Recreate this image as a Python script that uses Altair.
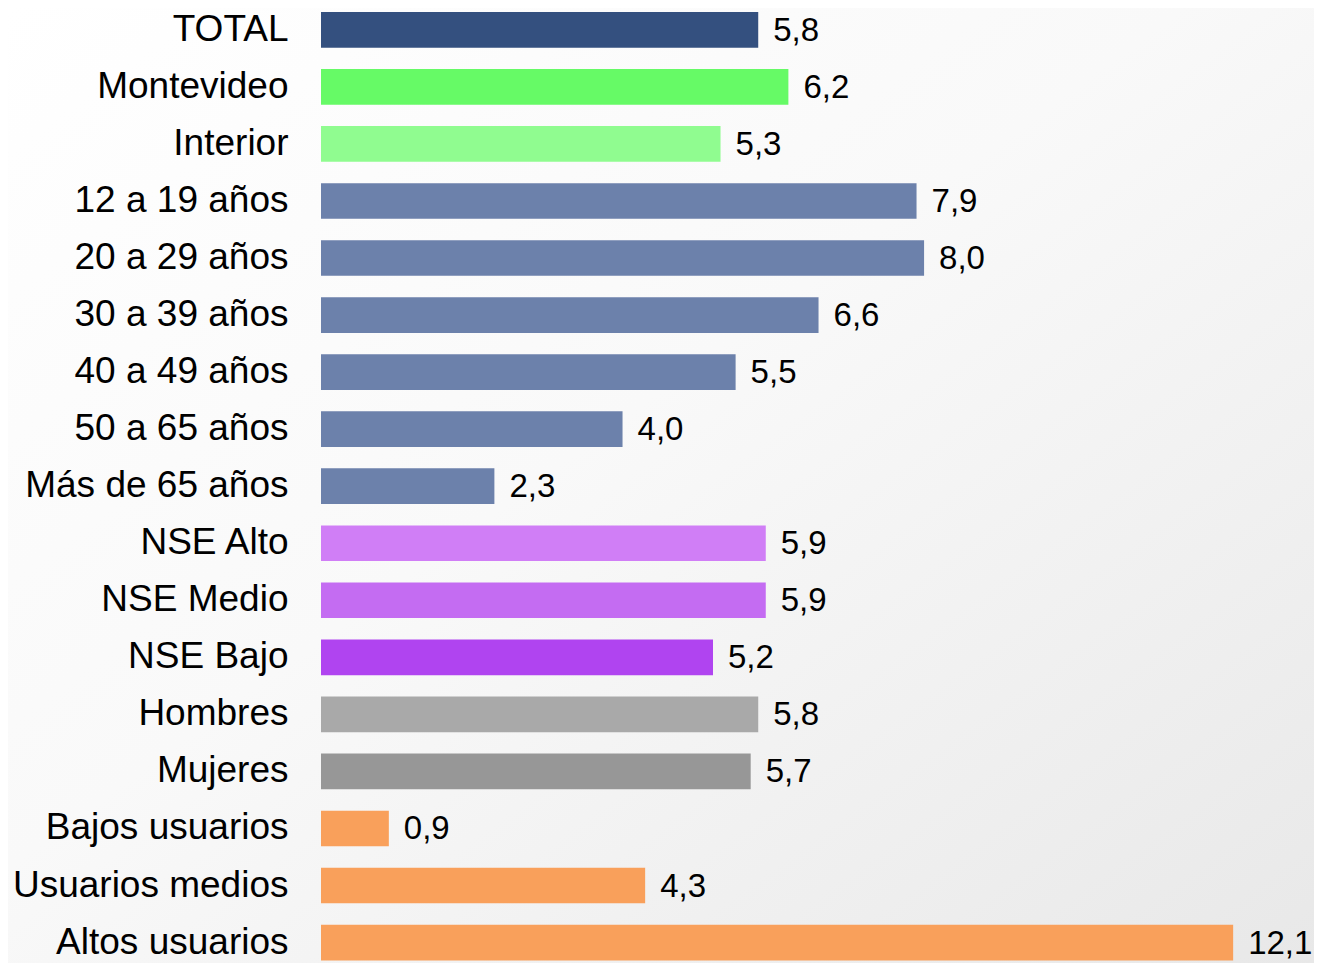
import altair as alt
import pandas as pd

categories = ["TOTAL", "Montevideo", "Interior", "12 a 19 años", "20 a 29 años",
              "30 a 39 años", "40 a 49 años", "50 a 65 años", "Más de 65 años",
              "NSE Alto", "NSE Medio", "NSE Bajo", "Hombres", "Mujeres",
              "Bajos usuarios", "Usuarios medios", "Altos usuarios"]
values = [5.8, 6.2, 5.3, 7.9, 8.0, 6.6, 5.5, 4.0, 2.3,
          5.9, 5.9, 5.2, 5.8, 5.7, 0.9, 4.3, 12.1]
colors = ["#34507f", "#66fa66", "#90fc90", "#6c81ab", "#6c81ab", "#6c81ab",
          "#6c81ab", "#6c81ab", "#6c81ab", "#d07ef6", "#c46cf2", "#b044f0",
          "#a9a9a9", "#979797", "#f9a05b", "#f9a05b", "#f9a05b"]
labels = [f"{v:.1f}".replace(".", ",") for v in values]

df = pd.DataFrame({"cat": categories, "val": values, "lbl": labels})

FONT = "Liberation Sans"
LEFT = 313
W, H = 980, 955
BAND_RANGE = 956.4

bg = alt.Chart(pd.DataFrame({"a": [0]})).mark_rect(
    fill=alt.Gradient(
        gradient="linear",
        stops=[alt.GradientStop(color="#ffffff", offset=0),
               alt.GradientStop(color="#f9f9f9", offset=0.45),
               alt.GradientStop(color="#e8e8e8", offset=1)],
        x1=0, y1=0, x2=1, y2=1),
).encode(x=alt.value(-LEFT), x2=alt.value(W + 13), y=alt.value(0), y2=alt.value(H))

y_enc = alt.Y("cat:N", sort=categories,
              scale=alt.Scale(paddingInner=0.375, paddingOuter=0.07, range=[0, BAND_RANGE]),
              axis=alt.Axis(title=None, domain=False, ticks=False, grid=False,
                            labelFont=FONT, labelFontSize=37, labelColor="#000000",
                            labelPadding=33, labelLimit=400, zindex=2))
x_enc = alt.X("val:Q", scale=alt.Scale(domain=[0, 13], nice=False), axis=None)

bars = alt.Chart(df).mark_bar().encode(
    x=x_enc, y=y_enc,
    color=alt.Color("cat:N", scale=alt.Scale(domain=categories, range=colors), legend=None),
)
text = alt.Chart(df).mark_text(align="left", baseline="middle", dx=15, dy=1,
                               font=FONT, fontSize=33, color="#000000").encode(
    x=x_enc, y=y_enc, text="lbl:N")

chart = alt.layer(bg, bars, text).properties(
    width=W, height=H,
    padding={"left": LEFT, "top": 0, "right": 13, "bottom": 0},
    autosize=alt.AutoSizeParams(type="none"),
).configure_view(stroke=None)

chart.save("out.html", embed_options={"renderer": "svg", "actions": False})
